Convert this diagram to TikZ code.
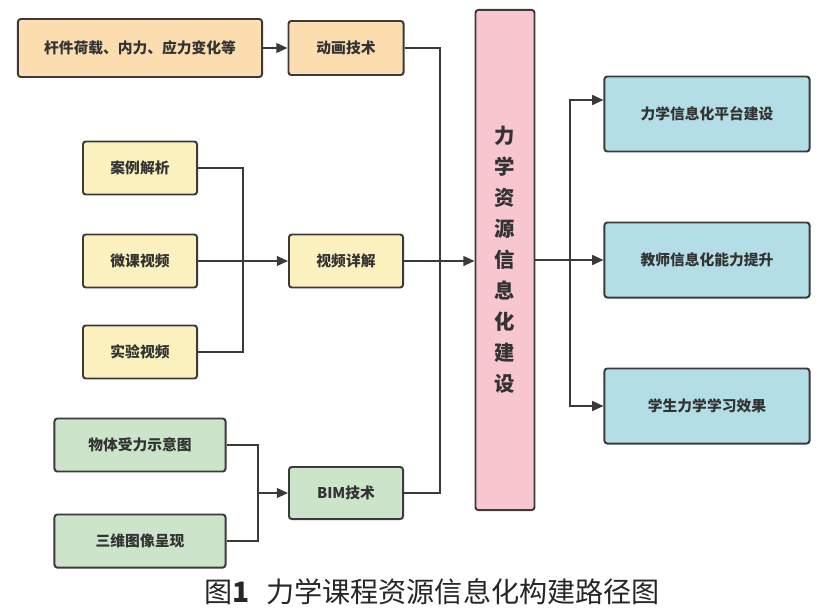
\documentclass[tikz,border=0pt]{standalone}
\usepackage{fontspec}
\setmainfont{Noto Sans CJK SC}
\usepackage{xcolor}
\usepackage{tikz}
\usetikzlibrary{positioning,arrows.meta}

\definecolor{edgegray}{HTML}{3A3A3A}
\definecolor{orangefill}{HTML}{FBDDB0}
\definecolor{yellowfill}{HTML}{FAF1BE}
\definecolor{greenfill}{HTML}{CCE4CA}
\definecolor{pinkfill}{HTML}{F7C6CF}
\definecolor{bluefill}{HTML}{B4DEE5}

\tikzset{
    box/.style={draw=edgegray, line width=1.4pt, rounded corners=2pt, inner sep=0pt,
                text=black!80, font=\fontsize{10.5}{12}\selectfont\bfseries},
    link/.style={draw=edgegray, line width=1.3pt},
    arr/.style={link, -{Triangle[length=8pt,width=7pt]}}
}

\begin{document}
\begin{tikzpicture}[x=0.025cm, y=-0.025cm]
    \useasboundingbox (0,0) rectangle (822,613);

    % first row
    \node[box, fill=orangefill, minimum width=6.1cm, minimum height=1.45cm]  (load) at (140,48)  {杆件荷载、内力、应力变化等};
    \node[box, fill=orangefill, minimum width=2.875cm, minimum height=1.35cm] (anim) at (346,48)  {动画技术};

    % video group
    \node[box, fill=yellowfill, minimum width=2.85cm, minimum height=1.325cm] (case)  at (140,168) {案例解析};
    \node[box, fill=yellowfill, minimum width=2.85cm, minimum height=1.325cm] (micro) at (140,261) {微课视频};
    \node[box, fill=yellowfill, minimum width=2.85cm, minimum height=1.325cm] (expv)  at (140,352) {实验视频};
    \node[box, fill=yellowfill, minimum width=2.85cm, minimum height=1.325cm] (video) at (346,261) {视频详解};

    % BIM group
    \node[box, fill=greenfill, minimum width=4.275cm, minimum height=1.325cm] (force) at (140,445) {物体受力示意图};
    \node[box, fill=greenfill, minimum width=4.275cm, minimum height=1.325cm] (three) at (140,541) {三维图像呈现};
    \node[box, fill=greenfill, minimum width=2.85cm, minimum height=1.3cm]    (bim)   at (346,493) {BIM技术};

    % centre
    \node[box, fill=pinkfill, minimum width=1.475cm, minimum height=12.5cm, align=center,
          font=\fontsize{14.5}{22}\selectfont\bfseries] (core) at (505,260)
          {力\\学\\资\\源\\信\\息\\化\\建\\设};

    % results
    \node[box, fill=bluefill, minimum width=5.125cm, minimum height=1.875cm] (plat)  at (707,114) {力学信息化平台建设};
    \node[box, fill=bluefill, minimum width=5.125cm, minimum height=1.875cm] (teach) at (707,260) {教师信息化能力提升};
    \node[box, fill=bluefill, minimum width=5.125cm, minimum height=1.875cm] (learn) at (707,406) {学生力学学习效果};

    \coordinate (vj)  at (243,261);
    \coordinate (gj)  at (258,493);
    \coordinate (hub) at (440,261);
    \coordinate (rj)  at (570,260);

    \draw[arr] (load) -- (anim);
    \draw[link] (case.east) -| (vj);
    \draw[link] (expv.east) -| (vj);
    \draw[arr] (micro) -- (video);
    \draw[link] (force.east) -| (gj);
    \draw[link] (three.east) -| (gj);
    \draw[arr] (gj) -- (bim.west);

    \draw[link] (anim.east) -| (hub);
    \draw[link] (bim.east) -| (hub);
    \draw[arr] (video.east) -- (video.east -| core.west);

    \draw[arr] (core.east) -- (teach.west);
    \draw[arr] (rj) |- ([yshift=0.35cm]plat.west);
    \draw[arr] (rj) |- (learn.west);

    \node[font=\fontsize{20}{22}\selectfont, text=black!85] (cap) at (432,592) {图\textbf{1}\hspace{0.6em}力学课程资源信息化构建路径图};
\end{tikzpicture}
\end{document}
